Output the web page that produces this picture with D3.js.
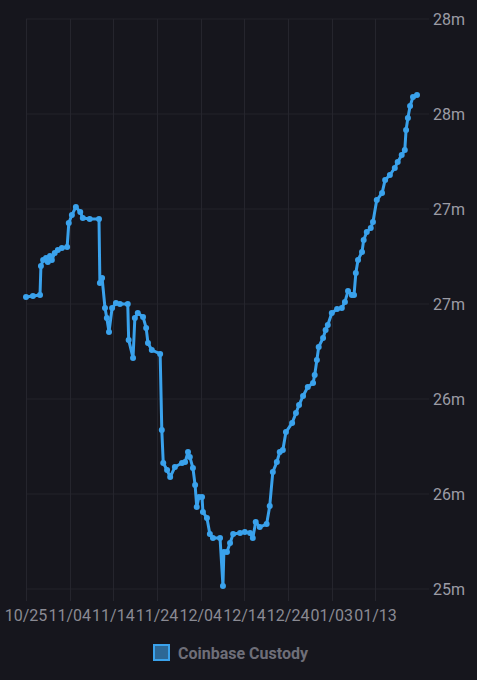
<!DOCTYPE html>
<html><head><meta charset="utf-8">
<script src="https://cdn.jsdelivr.net/npm/d3@7"></script>
<style>
html,body{margin:0;padding:0;background:#16161d;}
svg{display:block;}
text{font-family:Roboto,"Noto Sans",sans-serif;}
</style></head>
<body>
<svg id="chart" width="477" height="680"></svg>
<script>
const dates = [
"2024-10-25T00","2024-10-26T14","2024-10-28T05","2024-10-28T10","2024-10-28T22","2024-10-29T14","2024-10-30T00","2024-10-30T12","2024-10-30T22","2024-10-31T14",
"2024-11-01T07","2024-11-02T05","2024-11-03T10","2024-11-03T19","2024-11-04T12","2024-11-05T10","2024-11-06T10","2024-11-07T00","2024-11-08T14","2024-11-10T17",
"2024-11-10T22","2024-11-11T10","2024-11-12T02","2024-11-12T12","2024-11-13T00","2024-11-13T17","2024-11-14T14","2024-11-15T12","2024-11-17T07","2024-11-17T12",
"2024-11-18T12","2024-11-18T22","2024-11-19T14","2024-11-20T19","2024-11-21T12","2024-11-21T22","2024-11-22T19","2024-11-24T17","2024-11-25T02","2024-11-25T10",
"2024-11-26T07","2024-11-27T00","2024-11-28T02","2024-11-29T17","2024-11-30T10","2024-12-01T02","2024-12-01T12","2024-12-02T05","2024-12-02T17","2024-12-03T02",
"2024-12-03T14","2024-12-04T07","2024-12-04T12","2024-12-05T10","2024-12-06T02","2024-12-06T19","2024-12-08T10","2024-12-09T02","2024-12-09T07","2024-12-10T00",
"2024-12-10T17","2024-12-11T10","2024-12-13T00","2024-12-14T02","2024-12-15T07","2024-12-15T22","2024-12-16T14","2024-12-17T12","2024-12-19T02","2024-12-19T19",
"2024-12-20T12","2024-12-21T10","2024-12-22T02","2024-12-22T19","2024-12-23T12","2024-12-24T22","2024-12-25T19","2024-12-26T12","2024-12-27T10","2024-12-28T12",
"2024-12-29T17","2024-12-30T02","2024-12-30T14","2024-12-31T00","2025-01-01T00","2025-01-01T14","2025-01-02T02","2025-01-03T00","2025-01-04T05","2025-01-05T07",
"2025-01-06T00","2025-01-06T17","2025-01-07T14","2025-01-08T02","2025-01-08T12","2025-01-09T00","2025-01-09T22","2025-01-10T07","2025-01-11T00","2025-01-11T22",
"2025-01-12T10","2025-01-13T07","2025-01-14T12","2025-01-15T05","2025-01-16T07","2025-01-17T10","2025-01-18T02","2025-01-19T00","2025-01-19T17","2025-01-20T00",
"2025-01-20T10","2025-01-20T22","2025-01-21T14","2025-01-22T12"
];
const custody = [
26.537,26.542,26.547,26.700,26.732,26.742,26.721,26.753,26.732,26.768,
26.784,26.795,26.800,26.926,26.968,27.011,26.984,26.953,26.947,26.947,
26.611,26.637,26.479,26.426,26.353,26.479,26.505,26.500,26.500,26.311,
26.216,26.426,26.453,26.432,26.374,26.295,26.258,26.237,25.837,25.663,
25.626,25.589,25.642,25.663,25.668,25.721,25.695,25.637,25.547,25.432,
25.484,25.484,25.405,25.374,25.289,25.268,25.268,25.016,25.195,25.195,
25.242,25.289,25.295,25.300,25.295,25.268,25.353,25.326,25.342,25.437,
25.616,25.668,25.721,25.732,25.826,25.874,25.926,25.968,26.016,26.063,
26.084,26.126,26.205,26.274,26.321,26.363,26.389,26.453,26.474,26.479,
26.511,26.568,26.547,26.547,26.663,26.732,26.774,26.837,26.879,26.900,
26.932,27.047,27.084,27.153,27.179,27.216,27.247,27.284,27.311,27.416,
27.479,27.542,27.589,27.600
];
const xTickDates = ["2024-10-25","2024-11-04","2024-11-14","2024-11-24","2024-12-04","2024-12-14","2024-12-24","2025-01-03","2025-01-13"];
const xTickLabels = ["10/25","11/04","11/14","11/24","12/04","12/14","12/24","01/03","01/13"];
const yTicks = [25, 25.5, 26, 26.5, 27, 27.5, 28];
const yTickLabels = ["25m","26m","26m","27m","27m","28m","28m"];
const seriesName = "Coinbase Custody";

const parse = d3.utcParse("%Y-%m-%dT%H");
const parseDay = d3.utcParse("%Y-%m-%d");
const data = dates.map((d,i)=>({t:parse(d), v:custody[i]}));

const svg = d3.select("#chart");
const x = d3.scaleUtc()
  .domain([parseDay("2024-10-25"), parse("2025-01-22T12")])
  .range([26, 417]);
const y = d3.scaleLinear().domain([25, 28]).range([589, 19]);

const grid = svg.append("g");
grid.selectAll("line.h").data(yTicks).join("line")
  .attr("x1", 26).attr("x2", 429)
  .attr("y1", d=>y(d)).attr("y2", d=>y(d))
  .attr("stroke", "#23232b").attr("stroke-width", 1);
grid.selectAll("line.v").data(xTickDates).join("line")
  .attr("x1", d=>Math.round(x(parseDay(d)))+0.5).attr("x2", d=>Math.round(x(parseDay(d)))+0.5)
  .attr("y1", 19).attr("y2", 601)
  .attr("stroke", "#25252d").attr("stroke-width", 1);

svg.append("g").selectAll("text").data(yTicks).join("text")
  .attr("x", 433).attr("y", d=>y(d)).attr("dy", "0.35em")
  .attr("fill", "#9c9ca5").attr("font-size", 16)
  .text((d,i)=>yTickLabels[i]);

svg.append("g").selectAll("text").data(xTickDates).join("text")
  .attr("x", d=>x(parseDay(d))).attr("y", 621)
  .attr("text-anchor", "middle")
  .attr("fill", "#8a8a93").attr("font-size", 16)
  .text((d,i)=>xTickLabels[i]);

const line = d3.line().x(d=>x(d.t)).y(d=>y(d.v));
svg.append("path").datum(data)
  .attr("d", line).attr("fill", "none")
  .attr("stroke", "#3aa2ec").attr("stroke-width", 3)
  .attr("stroke-linejoin", "round");
svg.append("g").selectAll("circle").data(data).join("circle")
  .attr("cx", d=>x(d.t)).attr("cy", d=>y(d.v)).attr("r", 3)
  .attr("fill", "#3aa2ec");

const lg = svg.append("g");
lg.append("rect").attr("x", 154).attr("y", 645).attr("width", 15).attr("height", 15)
  .attr("fill", "#2d6896").attr("stroke", "#3aa2ec").attr("stroke-width", 2);
lg.append("text").attr("x", 178).attr("y", 653).attr("dy", "0.35em")
  .attr("fill", "#6e6e78").attr("font-size", 16).attr("font-weight", "bold")
  .text(seriesName);
</script>
</body></html>
